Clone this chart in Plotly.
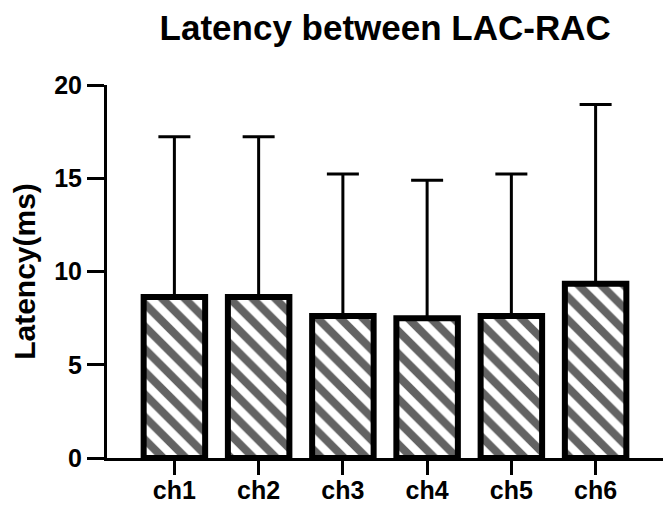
import plotly.graph_objects as go

categories = ["ch1", "ch2", "ch3", "ch4", "ch5", "ch6"]
mean_latency = [8.63, 8.63, 7.61, 7.50, 7.61, 9.34]
sd_latency = [8.59, 8.59, 7.62, 7.39, 7.62, 9.61]
y_ticks = [0, 5, 10, 15, 20]

FONT = "Arial, Liberation Sans, sans-serif"

fig = go.Figure()
fig.add_trace(go.Bar(
    x=categories,
    y=mean_latency,
    width=0.73,
    marker=dict(
        color="white",
        line=dict(color="black", width=6),
        pattern=dict(shape="\\", fgcolor="#636363", bgcolor="white",
                     size=16, solidity=0.5, fillmode="replace"),
    ),
    error_y=dict(type="data", array=sd_latency, arrayminus=[0] * len(sd_latency),
                 symmetric=False, color="black", thickness=3, width=16),
    showlegend=False,
))

fig.update_layout(
    width=663, height=510,
    margin=dict(l=107, r=0, t=85, b=52),
    plot_bgcolor="white", paper_bgcolor="white",
    title=dict(text="Latency between LAC-RAC", x=0.581, xanchor="center",
               y=0.97, yanchor="top", yref="container",
               font=dict(family=FONT, size=35, color="black", weight="bold")),
    font=dict(family=FONT, color="black"),
)
fig.update_xaxes(
    range=[-0.8, 5.8], showline=True, linecolor="black", linewidth=3,
    ticks="outside", ticklen=14, tickwidth=3, tickcolor="black",
    tickfont=dict(family=FONT, size=25, color="black", weight="bold"),
    ticklabelstandoff=-6,
    showgrid=False, zeroline=False,
)
fig.update_yaxes(
    range=[0, 20], tickvals=y_ticks, showline=True, linecolor="black", linewidth=3,
    ticks="outside", ticklen=17, tickwidth=3, tickcolor="black",
    tickfont=dict(family=FONT, size=25, color="black", weight="bold"),
    ticklabelstandoff=0,
    title=dict(text="Latency(ms)", standoff=10,
               font=dict(family=FONT, size=30, color="black", weight="bold")),
    showgrid=False, zeroline=False,
)

fig.write_html("out.html")
